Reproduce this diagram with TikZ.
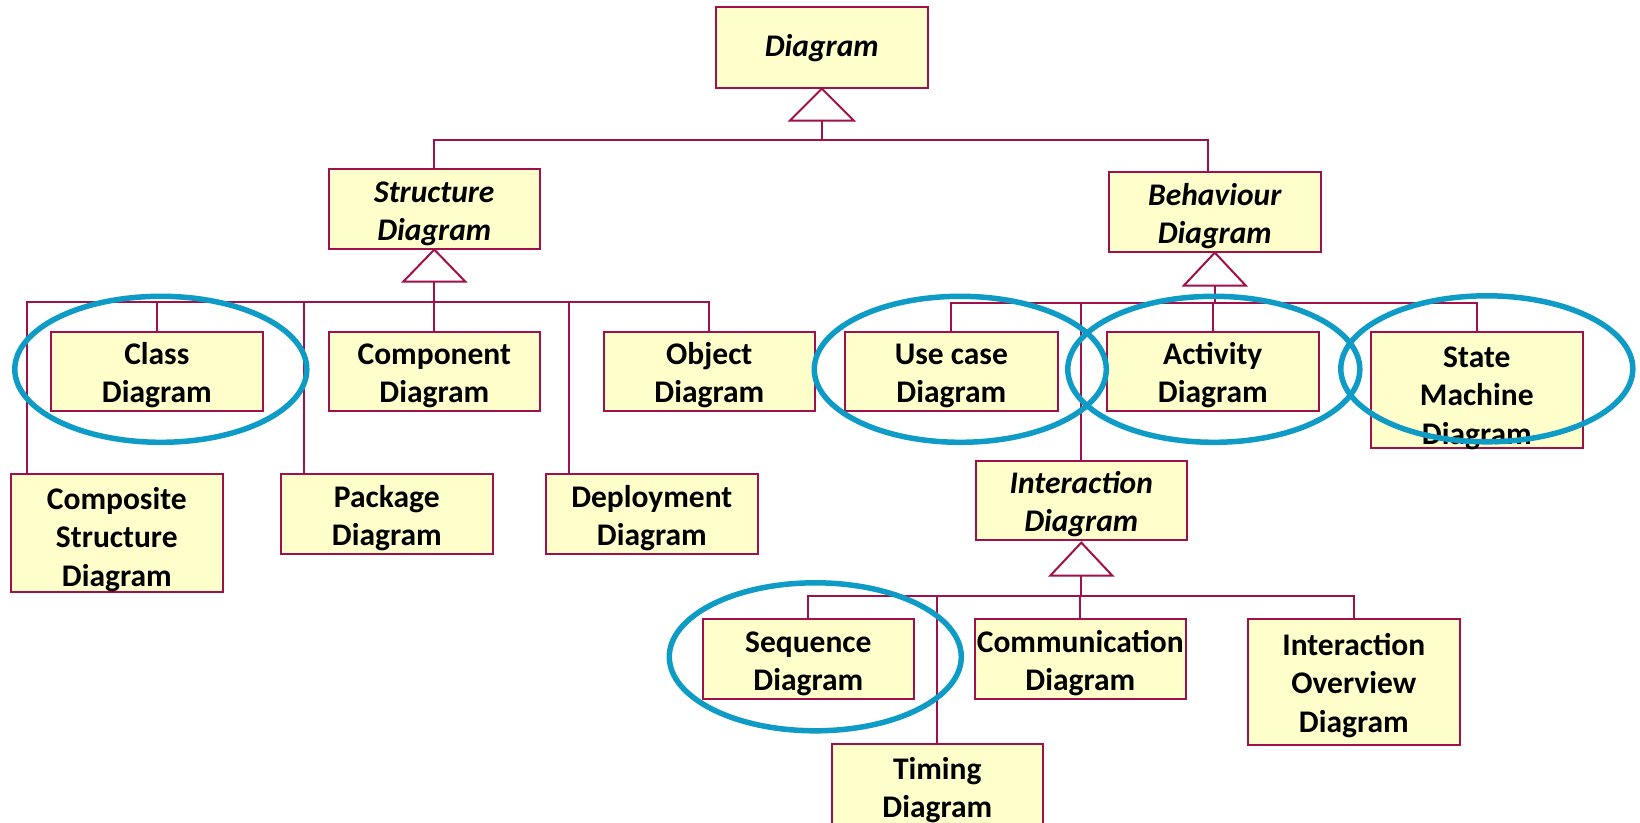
\documentclass[tikz,border=0pt]{standalone}
\usepackage{fontspec}
\setmainfont{Carlito}
\usetikzlibrary{calc}

\definecolor{umlfill}{HTML}{FFFFCC}
\definecolor{umlline}{HTML}{A0104A}
\definecolor{ringblue}{HTML}{0E9CC6}

\tikzset{
  box/.style={draw=umlline, fill=umlfill, line width=1.6pt, inner sep=0pt, anchor=north west},
  lbl/.style={font=\fontsize{31.5}{38.5}\selectfont\bfseries, text width=214pt,
              align=flush center, inner sep=0pt, anchor=base},
  abstract/.style={lbl, font=\fontsize{31.5}{38.5}\selectfont\bfseries\itshape},
  link/.style={draw=umlline, line width=2pt},
  gen/.style={draw=umlline, line width=2pt, fill=white, line join=miter},
  ring/.style={draw=ringblue, line width=5.5pt},
}

\begin{document}
\begin{tikzpicture}[x=1pt, y=-1pt]
\useasboundingbox (0,0) rectangle (1640,822);

% ---- class boxes ----
\node[box, minimum width=212pt, minimum height=81pt]  (diag)   at (715,6)   {};
\node[box, minimum width=211pt, minimum height=80pt]  (struct) at (328,168) {};
\node[box, minimum width=212pt, minimum height=80pt]  (behav)  at (1108,171) {};
\node[box, minimum width=212pt, minimum height=79pt]  (cls)    at (50,331)  {};
\node[box, minimum width=211pt, minimum height=79pt]  (comp)   at (328,331) {};
\node[box, minimum width=211pt, minimum height=79pt]  (obj)    at (603,331) {};
\node[box, minimum width=212pt, minimum height=118pt] (comps)  at (10,473)  {};
\node[box, minimum width=212pt, minimum height=80pt]  (pkg)    at (280,473) {};
\node[box, minimum width=212pt, minimum height=80pt]  (depl)   at (545,473) {};
\node[box, minimum width=213pt, minimum height=79pt]  (use)    at (844,331) {};
\node[box, minimum width=212pt, minimum height=79pt]  (act)    at (1106,331) {};
\node[box, minimum width=212pt, minimum height=116pt] (state)  at (1370,331) {};
\node[box, minimum width=211pt, minimum height=79pt]  (inter)  at (975,460) {};
\node[box, minimum width=211pt, minimum height=80pt]  (seq)    at (702,618) {};
\node[box, minimum width=211pt, minimum height=80pt]  (comm)   at (974,618) {};
\node[box, minimum width=212pt, minimum height=126pt] (ovw)    at (1247,618) {};
\node[box, minimum width=211pt, minimum height=100pt] (timing) at (831,743) {};

% ---- names (first baseline below the box top) ----
\node[abstract] (diag-t)   at ($(diag.north)+(0,50)$)   {Diagram};
\node[abstract] (struct-t) at ($(struct.north)+(0,34)$) {Structure\\Diagram};
\node[abstract] (behav-t)  at ($(behav.north)+(0,34)$)  {Behaviour\\Diagram};
\node[lbl] (cls-t)    at ($(cls.north)+(0,33)$)    {Class\\Diagram};
\node[lbl] (comp-t)   at ($(comp.north)+(0,33)$)   {Component\\Diagram};
\node[lbl] (obj-t)    at ($(obj.north)+(0,33)$)    {Object\\Diagram};
\node[lbl] (comps-t)  at ($(comps.north)+(0,36)$)  {Composite\\Structure\\Diagram};
\node[lbl] (pkg-t)    at ($(pkg.north)+(0,34)$)    {Package\\Diagram};
\node[lbl] (depl-t)   at ($(depl.north)+(0,34)$)   {Deployment\\Diagram};
\node[lbl] (use-t)    at ($(use.north)+(0,33)$)    {Use case\\Diagram};
\node[lbl] (act-t)    at ($(act.north)+(0,33)$)    {Activity\\Diagram};
\node[lbl] (state-t)  at ($(state.north)+(0,36)$)  {State\\Machine\\Diagram};
\node[abstract] (inter-t) at ($(inter.north)+(0,33)$) {Interaction\\Diagram};
\node[lbl] (seq-t)    at ($(seq.north)+(0,34)$)    {Sequence\\Diagram};
\node[lbl] (comm-t)   at ($(comm.north)+(0,34)$)   {Communication\\Diagram};
\node[lbl] (ovw-t)    at ($(ovw.north)+(0,37)$)    {Interaction\\Overview\\Diagram};
\node[lbl] (timing-t) at ($(timing.north)+(0,36)$) {Timing\\Diagram};

% ---- generalisation: Diagram ----
\coordinate (topbar) at ($(diag.south)+(0,51)$);
\draw[link] ($(diag.south)+(0,32)$) -- (topbar);
\draw[link] (topbar) -| (struct.north);
\draw[link] (topbar) -| ($(behav.north)+(-7,0)$);
\draw[gen] (diag.south) -- ++(-32,32) -- ++(64,0) -- cycle;

% ---- generalisation: Structure Diagram ----
\coordinate (sbar) at ($(struct.south)+(0,52)$);
\draw[link] ($(struct.south)+(0,32)$) -- (sbar);
\draw[link] (sbar) -| (cls.north);
\draw[link] (sbar) -| (comp.north);
\draw[link] (sbar) -| (obj.north);
\draw[link] (sbar) -| ($(comps.north west)+(17,0)$);
\draw[link] (sbar) -| ($(pkg.north west)+(24,0)$);
\draw[link] (sbar) -| ($(depl.north west)+(24,0)$);
\draw[gen] (struct.south) -- ++(-31,32) -- ++(62,0) -- cycle;

% ---- generalisation: Behaviour Diagram ----
\coordinate (bbar) at ($(behav.south)+(0,50)$);
\draw[link] ($(behav.south)+(0,33)$) -- (bbar);
\draw[link] (bbar) -| (use.north);
\draw[link] (bbar) -| (act.north);
\draw[link] (bbar) -| (state.north);
\draw[link] (bbar) -| (inter.north);
\draw[gen] (behav.south) -- ++(-31,33) -- ++(62,0) -- cycle;

% ---- generalisation: Interaction Diagram ----
\coordinate (ibar) at ($(inter.south)+(0,55)$);
\draw[link] ($(inter.south)+(0,35)$) -- (ibar);
\draw[link] (ibar) -| (seq.north);
\draw[link] (ibar) -| (comm.north);
\draw[link] (ibar) -| (ovw.north);
\draw[link] (ibar) -| (timing.north);
\draw[gen] ($(inter.south)+(0,2)$) -- ++(-31,33) -- ++(62,0) -- cycle;

% ---- highlighted diagrams ----
\draw[ring] ($(cls.center)+(4,-2)$)   ellipse [x radius=146pt, y radius=73pt];
\draw[ring] ($(use.center)+(9,-2)$)   ellipse [x radius=146pt, y radius=73pt];
\draw[ring] ($(act.center)+(1,-2)$)   ellipse [x radius=146pt, y radius=73pt];
\draw[ring] ($(state.center)+(10,-21)$) ellipse [x radius=146pt, y radius=73pt];
\draw[ring] ($(seq.center)+(7,-2)$)   ellipse [x radius=146pt, y radius=74pt];
\end{tikzpicture}
\end{document}
